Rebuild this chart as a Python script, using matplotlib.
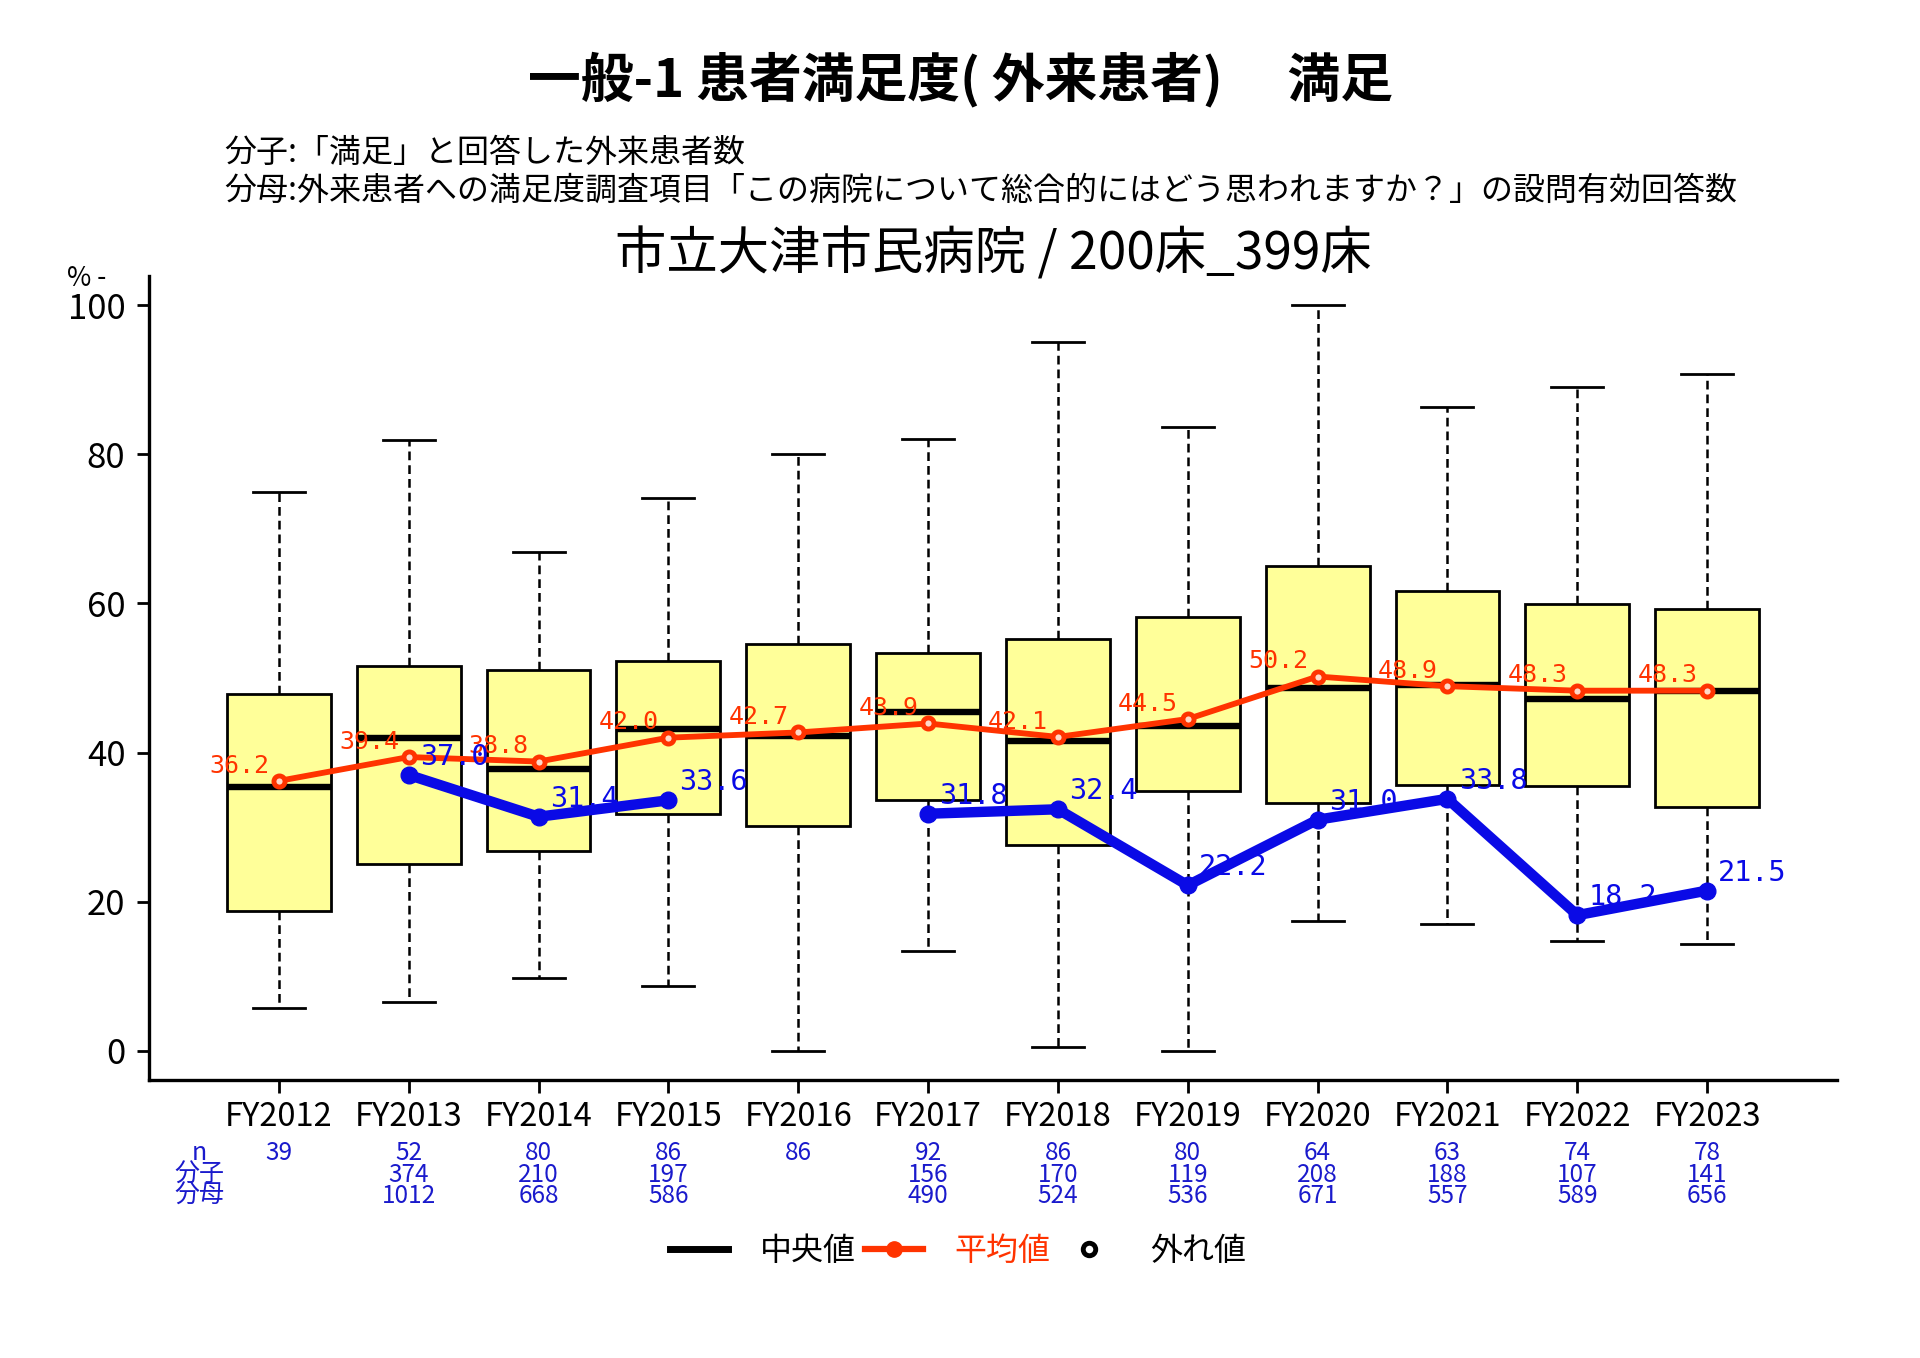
import numpy as np
import matplotlib.pyplot as plt
from matplotlib.lines import Line2D

plt.rcParams['font.family'] = ['Noto Sans CJK JP', 'DejaVu Sans']

years = ['FY2012', 'FY2013', 'FY2014', 'FY2015', 'FY2016', 'FY2017',
         'FY2018', 'FY2019', 'FY2020', 'FY2021', 'FY2022', 'FY2023']

# distribution across hospitals of the same size (box plot stats)
whislo = [5.7, 6.6, 9.8, 8.7, 0.0, 13.4, 0.5, 0.0, 17.4, 17.0, 14.7, 14.3]
q1 = [18.8, 25.1, 26.8, 31.8, 30.1, 33.7, 27.6, 34.9, 33.3, 35.6, 35.5, 32.7]
med = [35.4, 42.0, 37.8, 43.1, 42.2, 45.4, 41.5, 43.5, 48.6, 49.0, 47.2, 48.2]
q3 = [47.8, 51.6, 51.1, 52.3, 54.6, 53.3, 55.2, 58.2, 65.0, 61.6, 59.9, 59.3]
whishi = [75.0, 81.9, 66.9, 74.1, 80.0, 82.1, 95.0, 83.6, 100.0, 86.3, 89.0, 90.7]

means = [36.2, 39.4, 38.8, 42.0, 42.7, 43.9, 42.1, 44.5, 50.2, 48.9, 48.3, 48.3]

# this hospital
hosp = [np.nan, 37.0, 31.4, 33.6, np.nan, 31.8, 32.4, 22.2, 31.0, 33.8, 18.2, 21.5]

n_row = ['39', '52', '80', '86', '86', '92', '86', '80', '64', '63', '74', '78']
num_row = ['', '374', '210', '197', '', '156', '170', '119', '208', '188', '107', '141']
den_row = ['', '1012', '668', '586', '', '490', '524', '536', '671', '557', '589', '656']

red = '#FF3300'
blue = '#0A0AE6'
tblue = '#1A1ACC'

fig = plt.figure(figsize=(19.2, 13.58), dpi=100)
ax = fig.add_axes([149 / 1920, 1 - 1080 / 1358, (1837 - 149) / 1920, (1080 - 276) / 1358])

x = np.arange(len(years))
stats = []
for i in range(len(years)):
    stats.append({'med': med[i], 'q1': q1[i], 'q3': q3[i],
                  'whislo': whislo[i], 'whishi': whishi[i], 'fliers': []})

ax.bxp(stats, positions=x, widths=0.8, capwidths=0.4, patch_artist=True,
       showfliers=False,
       boxprops=dict(facecolor='#FFFF99', edgecolor='black', linewidth=2),
       medianprops=dict(color='black', linewidth=4.6, solid_capstyle='butt'),
       whiskerprops=dict(color='black', linewidth=1.8, linestyle=(0, (3.5, 2))),
       capprops=dict(color='black', linewidth=2))

ax.plot(x, means, color=red, lw=4.2, marker='o', ms=8, mfc='#FFD8C8',
        mec=red, mew=3.5, zorder=5)
for i, v in enumerate(means):
    ax.annotate(f'{v:.1f}', (i, v), xytext=(-7, 11), textcoords='offset points',
                ha='right', va='center', fontsize=18, color=red,
                family='DejaVu Sans Mono', zorder=6)

ax.plot(x, hosp, color=blue, lw=7.5, marker='o', ms=12, zorder=7)
for i, v in enumerate(hosp):
    if not np.isnan(v):
        ax.annotate(f'{v:.1f}', (i, v), xytext=(8, 13), textcoords='offset points',
                    ha='left', va='center', fontsize=20.5, color=blue,
                    family='DejaVu Sans Mono', zorder=8)

ax.set_xlim(-1, 12)
ax.set_ylim(-3.9, 103.9)
ax.set_yticks([0, 20, 40, 60, 80, 100])
ax.set_xticks(x, labels=years)
ax.tick_params(axis='both', length=9, width=2)
ax.tick_params(axis='x', pad=6, labelsize=23.5)
ax.tick_params(axis='y', pad=8, labelsize=25)
for s in ['top', 'right']:
    ax.spines[s].set_visible(False)
for s in ['left', 'bottom']:
    ax.spines[s].set_linewidth(2.4)

# n / numerator / denominator table under the axis
tr = ax.get_xaxis_transform()
rows = [(-0.091, 'n', n_row), (-0.118, '分子', num_row), (-0.144, '分母', den_row)]
for yy, lab, vals in rows:
    ax.text(-0.61, yy, lab, transform=tr, ha='center', va='center',
            fontsize=18, color=tblue)
    for i, s in enumerate(vals):
        ax.text(i, yy, s, transform=tr, ha='center', va='center',
                fontsize=17.5, color=tblue)

fig.text(67 / 1920, 1 - 279 / 1358, '% -', fontsize=19, va='center')

fig.text(0.5, 1 - 80 / 1358, '一般-1 患者満足度( 外来患者)　 満足',
         ha='center', va='center', fontsize=38, fontweight='bold')
fig.text(224 / 1920, 1 - 153 / 1358, '分子:「満足」と回答した外来患者数',
         ha='left', va='center', fontsize=23)
fig.text(224 / 1920, 1 - 191 / 1358,
         '分母:外来患者への満足度調査項目「この病院について総合的にはどう思われますか？」の設問有効回答数',
         ha='left', va='center', fontsize=23)
fig.text(993 / 1920, 1 - 255 / 1358, '市立大津市民病院 / 200床_399床',
         ha='center', va='center', fontsize=37)

handles = [Line2D([], [], color='black', lw=5),
           Line2D([], [], color=red, lw=4.5, marker='o', ms=11, mfc=red, mec=red),
           Line2D([], [], color='black', lw=0, marker='o', ms=9, mfc='white',
                  mec='black', mew=3.5)]
leg = fig.legend(handles, ['中央値', '平均値', '外れ値'], ncol=3, frameon=False,
                 loc='center', bbox_to_anchor=(958 / 1920, 1 - 1251 / 1358),
                 fontsize=23, handlelength=1.8, handletextpad=1.0,
                 columnspacing=0.3)
leg.get_texts()[1].set_color(red)

fig.savefig('out.png', dpi=100)
